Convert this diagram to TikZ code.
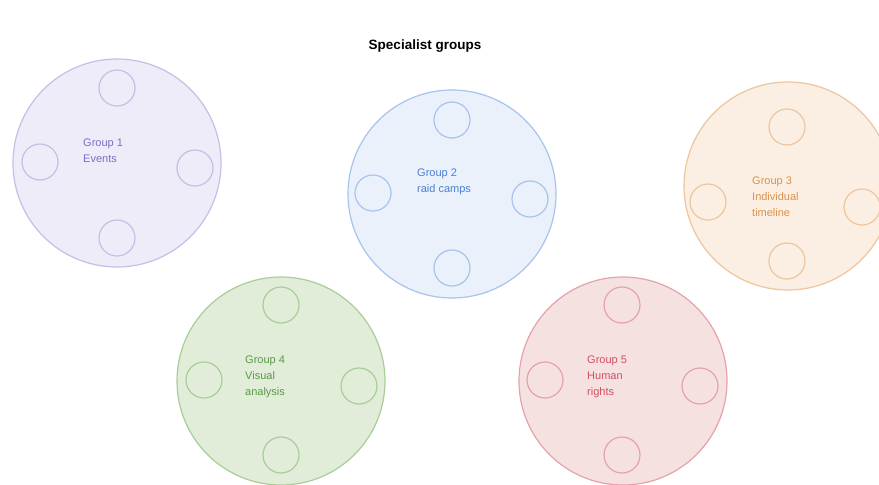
\documentclass[tikz,border=0pt]{standalone}
\usepackage{fontspec}
\setmainfont{Liberation Sans}
\definecolor{pFill}{HTML}{EFECFA}\definecolor{pLine}{HTML}{C6BEE6}\definecolor{pText}{HTML}{7A6EC2}
\definecolor{bFill}{HTML}{EAF1FB}\definecolor{bLine}{HTML}{A8C3EC}\definecolor{bText}{HTML}{4A7FD2}
\definecolor{oFill}{HTML}{FBEFE4}\definecolor{oLine}{HTML}{EEC59C}\definecolor{oText}{HTML}{D9924E}
\definecolor{gFill}{HTML}{E1EDD9}\definecolor{gLine}{HTML}{A9CD99}\definecolor{gText}{HTML}{5A9A47}
\definecolor{rFill}{HTML}{F6E1E1}\definecolor{rLine}{HTML}{E6A2AA}\definecolor{rText}{HTML}{D2505F}
\tikzset{
  group/.style={circle,draw=#1,line width=1.2pt,minimum size=208pt,inner sep=0pt},
  seat/.style={circle,draw=#1,line width=1.2pt,minimum size=36pt,inner sep=0pt},
  lbl/.style={text=#1,font=\fontsize{11}{16}\selectfont,align=left,anchor=north west,inner sep=0pt},
}
\begin{document}
\begin{tikzpicture}[x=1pt,y=-1pt]
\clip (0,0) rectangle (879,485);
\fill[white] (0,0) rectangle (879,485);
\node[font=\bfseries\fontsize{13.5}{16}\selectfont] (title) at (425,46) {Specialist groups};
% Group 1
\node[group=pLine,fill=pFill] (g1) at (117,163) {};
\node[seat=pLine] (g1t) at (117,88) {};
\node[seat=pLine] (g1l) at (40,162) {};
\node[seat=pLine] (g1r) at (195,168) {};
\node[seat=pLine] (g1b) at (117,238) {};
\node[lbl=pText] (g1x) at (83,139) {Group 1\\Events};
% Group 2
\node[group=bLine,fill=bFill] (g2) at (452,194) {};
\node[seat=bLine] (g2t) at (452,120) {};
\node[seat=bLine] (g2l) at (373,193) {};
\node[seat=bLine] (g2r) at (530,199) {};
\node[seat=bLine] (g2b) at (452,268) {};
\node[lbl=bText] (g2x) at (417,169) {Group 2\\raid camps};
% Group 3
\node[group=oLine,fill=oFill] (g3) at (788,186) {};
\node[seat=oLine] (g3t) at (787,127) {};
\node[seat=oLine] (g3l) at (708,202) {};
\node[seat=oLine] (g3r) at (862,207) {};
\node[seat=oLine] (g3b) at (787,261) {};
\node[lbl=oText] (g3x) at (752,177) {Group 3\\Individual\\timeline};
% Group 4
\node[group=gLine,fill=gFill] (g4) at (281,381) {};
\node[seat=gLine] (g4t) at (281,305) {};
\node[seat=gLine] (g4l) at (204,380) {};
\node[seat=gLine] (g4r) at (359,386) {};
\node[seat=gLine] (g4b) at (281,455) {};
\node[lbl=gText] (g4x) at (245,356) {Group 4\\Visual\\analysis};
% Group 5
\node[group=rLine,fill=rFill] (g5) at (623,381) {};
\node[seat=rLine] (g5t) at (622,305) {};
\node[seat=rLine] (g5l) at (545,380) {};
\node[seat=rLine] (g5r) at (700,386) {};
\node[seat=rLine] (g5b) at (622,455) {};
\node[lbl=rText] (g5x) at (587,356) {Group 5\\Human\\rights};
\end{tikzpicture}
\end{document}
